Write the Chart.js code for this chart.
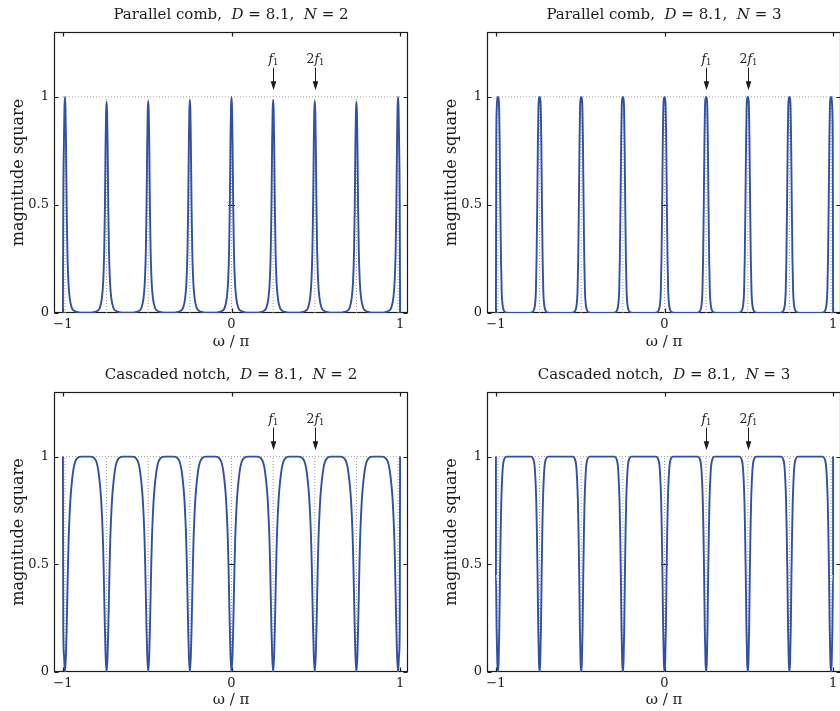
<!DOCTYPE html>
<html>
<head>
<meta charset="utf-8">
<script src="https://cdn.jsdelivr.net/npm/chart.js@4"></script>
<style>
  html, body { margin: 0; padding: 0; background: #fff; overflow: hidden; width: 840px; height: 711px; }
  canvas { position: absolute; }
</style>
</head>
<body>
<canvas id="combN2" width="420" height="355" style="left:0;top:0"></canvas>
<canvas id="combN3" width="420" height="355" style="left:433px;top:0"></canvas>
<canvas id="notchN2" width="420" height="351" style="left:0;top:360px"></canvas>
<canvas id="notchN3" width="420" height="351" style="left:433px;top:360px"></canvas>
<script>
// Comb peaks / notches sit at multiples of the fundamental f1 = 2/D (in units of pi).
const peakCenters = [-0.988, -0.741, -0.494, -0.247, 0, 0.247, 0.494, 0.741, 0.988];

// Parallel comb peak heights (N = 2 and N = 3).
const combN2Heights = [1.0, 0.977, 0.981, 0.986, 1.0, 0.986, 0.981, 0.977, 1.0];
const combN3Heights = [1, 1, 1, 1, 1, 1, 1, 1, 1];

// One-sided shape of a single peak: distance from its centre vs. relative level.
const combN2Offsets = [0, 0.003, 0.006, 0.010, 0.014, 0.020, 0.028, 0.040, 0.055, 0.075, 0.100];
const combN2Levels  = [1, 0.95, 0.80, 0.50, 0.30, 0.15, 0.07, 0.025, 0.010, 0.004, 0.001];
const combN3Offsets = [0, 0.004, 0.007, 0.010, 0.014, 0.018, 0.022, 0.027, 0.033, 0.045, 0.070];
const combN3Levels  = [1, 0.99, 0.95, 0.80, 0.50, 0.25, 0.10, 0.04, 0.015, 0.003, 0];

// One-sided shape of a single notch.
const notchN2Offsets = [0, 0.006, 0.010, 0.014, 0.018, 0.022, 0.027, 0.034, 0.042, 0.050, 0.060, 0.072, 0.085, 0.100];
const notchN2Levels  = [0, 0.08, 0.20, 0.35, 0.50, 0.62, 0.72, 0.82, 0.89, 0.94, 0.975, 0.992, 0.999, 1];
const notchN3Offsets = [0, 0.004, 0.008, 0.012, 0.016, 0.020, 0.025, 0.030, 0.038, 0.050];
const notchN3Levels  = [0, 0.05, 0.20, 0.45, 0.65, 0.80, 0.90, 0.96, 0.99, 1];

// Response values at omega = -pi and omega = +pi.
const combEdges  = [0, 0];
const notchEdges = [1, 1];

const xTicks = [-1, 0, 1];
const yTicks = [0, 0.5, 1];

// Harmonic markers.
const harmonicX = [0.247, 0.494];
const harmonicPrefix = ['', '2'];

const delayD = '8.1';

function buildSeries(heights, offsets, levels, edges) {
  const pts = [{ x: -1, y: edges[0] }];
  peakCenters.forEach((c, k) => {
    for (let i = offsets.length - 1; i > 0; i--) pts.push({ x: c - offsets[i], y: heights[k] * levels[i] });
    for (let i = 0; i < offsets.length; i++) pts.push({ x: c + offsets[i], y: heights[k] * levels[i] });
  });
  pts.push({ x: 1, y: edges[1] });
  return pts.filter(p => p.x >= -1 && p.x <= 1);
}

const ones = peakCenters.map(() => 1);
const guideH = [{ x: -1, y: 1 }, { x: 1, y: 1 }];
const guideV = [];
peakCenters.forEach(c => { guideV.push({ x: c, y: 0 }, { x: c, y: 1 }, { x: c, y: null }); });

const SERIF = "'DejaVu Serif', serif";
const INK = '#1c1c1c';
const fmt = v => (v < 0 ? '\u2212' + Math.abs(v) : String(v));

// Axes box with inward ticks, MATLAB style.
const framePlugin = {
  id: 'frame',
  beforeDatasetsDraw(chart) {
    const { ctx, chartArea: a, scales: { x, y } } = chart;
    const L = Math.round(a.left) + 0.5, R = Math.round(a.right) - 0.5;
    const T = Math.round(a.top) + 0.5, B = Math.round(a.bottom) - 0.5;
    ctx.save();
    ctx.strokeStyle = INK;
    ctx.lineWidth = 1.2;
    ctx.strokeRect(L, T, R - L, B - T);
    const tl = 4;
    ctx.beginPath();
    xTicks.forEach(v => {
      const p = Math.round(x.getPixelForValue(v)) + 0.5;
      ctx.moveTo(p, B); ctx.lineTo(p, B - tl);
      ctx.moveTo(p, T); ctx.lineTo(p, T + tl);
    });
    yTicks.forEach(v => {
      const p = Math.round(y.getPixelForValue(v)) + 0.5;
      ctx.moveTo(L, p); ctx.lineTo(L + tl, p);
      ctx.moveTo(R, p); ctx.lineTo(R - tl, p);
    });
    const cx = x.getPixelForValue(0), cy = Math.round(y.getPixelForValue(0.5)) + 0.5;
    ctx.moveTo(cx - 3.5, cy); ctx.lineTo(cx + 3.5, cy);
    ctx.stroke();
    ctx.restore();
  }
};

// Title with italic symbols, and the f1 / 2f1 arrows.
const annotatePlugin = {
  id: 'annotate',
  afterDraw(chart, args, opts) {
    const { ctx, chartArea: a, scales: { x, y } } = chart;
    ctx.save();
    ctx.fillStyle = INK;
    ctx.textBaseline = 'middle';
    // title
    const segs = opts.title;
    const fontFor = it => (it ? 'italic ' : '') + '15px ' + SERIF;
    let w = 0;
    segs.forEach(s => { ctx.font = fontFor(s.italic); w += ctx.measureText(s.text).width; });
    let tx = (a.left + a.right) / 2 - w / 2;
    segs.forEach(s => {
      ctx.font = fontFor(s.italic);
      ctx.textAlign = 'left';
      ctx.fillText(s.text, tx, 15);
      tx += ctx.measureText(s.text).width;
    });
    // arrows
    ctx.strokeStyle = INK;
    ctx.lineWidth = 1;
    harmonicX.forEach((v, i) => {
      const px = Math.round(x.getPixelForValue(v)) + 0.5;
      const yTail = y.getPixelForValue(1.135);
      const yTip = y.getPixelForValue(1.03);
      ctx.beginPath();
      ctx.moveTo(px, yTail); ctx.lineTo(px, yTip - 6);
      ctx.stroke();
      ctx.beginPath();
      ctx.moveTo(px - 2.8, yTip - 9); ctx.lineTo(px + 2.8, yTip - 9); ctx.lineTo(px, yTip);
      ctx.closePath();
      ctx.fill();
      // label: [prefix] f with subscript 1
      const yl = y.getPixelForValue(1.17);
      const parts = [
        { t: harmonicPrefix[i], f: '12.5px ' + SERIF, dy: 0 },
        { t: 'f', f: 'italic 12.5px ' + SERIF, dy: 0 },
        { t: '1', f: '8.5px ' + SERIF, dy: 3 }
      ];
      let lw = 0;
      parts.forEach(p => { ctx.font = p.f; lw += ctx.measureText(p.t).width; });
      let lx = px - lw / 2;
      ctx.textAlign = 'left';
      parts.forEach(p => {
        ctx.font = p.f;
        ctx.fillText(p.t, lx, yl + p.dy);
        lx += ctx.measureText(p.t).width;
      });
    });
    ctx.restore();
  }
};

function makePanel(id, series, titleSegs, xAxisHeight, xTitlePad) {
  new Chart(document.getElementById(id), {
    type: 'line',
    data: {
      datasets: [
        { data: series, borderColor: '#3050a8', borderWidth: 1.9, pointRadius: 0,
          cubicInterpolationMode: 'monotone', fill: false },
        { data: guideH, borderColor: '#999999', borderWidth: 1, borderDash: [1, 2], pointRadius: 0, fill: false },
        { data: guideV, borderColor: '#999999', borderWidth: 1, borderDash: [1, 2], pointRadius: 0, fill: false, spanGaps: false }
      ]
    },
    options: {
      responsive: false,
      animation: false,
      events: [],
      layout: { padding: { top: 32, right: 12, left: 0, bottom: 0 } },
      plugins: {
        legend: { display: false },
        tooltip: { enabled: false },
        annotate: { title: titleSegs }
      },
      scales: {
        x: {
          type: 'linear', min: -1.053, max: 1.047,
          afterBuildTicks: s => { s.ticks = xTicks.map(v => ({ value: v })); },
          afterFit: s => { s.height = xAxisHeight; },
          ticks: { font: { family: SERIF, size: 13 }, color: INK, padding: 4, maxRotation: 0, autoSkip: false, callback: fmt },
          grid: { display: false, drawTicks: false },
          border: { display: false },
          title: { display: true, text: '\u03c9 / \u03c0', font: { family: SERIF, size: 15 }, color: INK,
                   padding: { top: 0, bottom: xTitlePad } }
        },
        y: {
          type: 'linear', min: 0, max: 1.3,
          afterBuildTicks: s => { s.ticks = yTicks.map(v => ({ value: v })); },
          afterFit: s => { s.width = 54; },
          ticks: { font: { family: SERIF, size: 13 }, color: INK, padding: 5, autoSkip: false, callback: fmt },
          grid: { display: false, drawTicks: false },
          border: { display: false },
          title: { display: true, text: 'magnitude square', font: { family: SERIF, size: 16 }, color: INK,
                   padding: { top: 9, bottom: 0 } }
        }
      }
    },
    plugins: [framePlugin, annotatePlugin]
  });
}

function titleOf(name, n) {
  return [
    { text: name + ',  ', italic: false },
    { text: 'D', italic: true },
    { text: ' = ' + delayD + ',  ', italic: false },
    { text: 'N', italic: true },
    { text: ' = ' + n, italic: false }
  ];
}

makePanel('combN2', buildSeries(combN2Heights, combN2Offsets, combN2Levels, combEdges), titleOf('Parallel comb', 2), 42, 4);
makePanel('combN3', buildSeries(combN3Heights, combN3Offsets, combN3Levels, combEdges), titleOf('Parallel comb', 3), 42, 4);
makePanel('notchN2', buildSeries(ones, notchN2Offsets, notchN2Levels, notchEdges), titleOf('Cascaded notch', 2), 39, 2);
makePanel('notchN3', buildSeries(ones, notchN3Offsets, notchN3Levels, notchEdges), titleOf('Cascaded notch', 3), 39, 2);
</script>
</body>
</html>
